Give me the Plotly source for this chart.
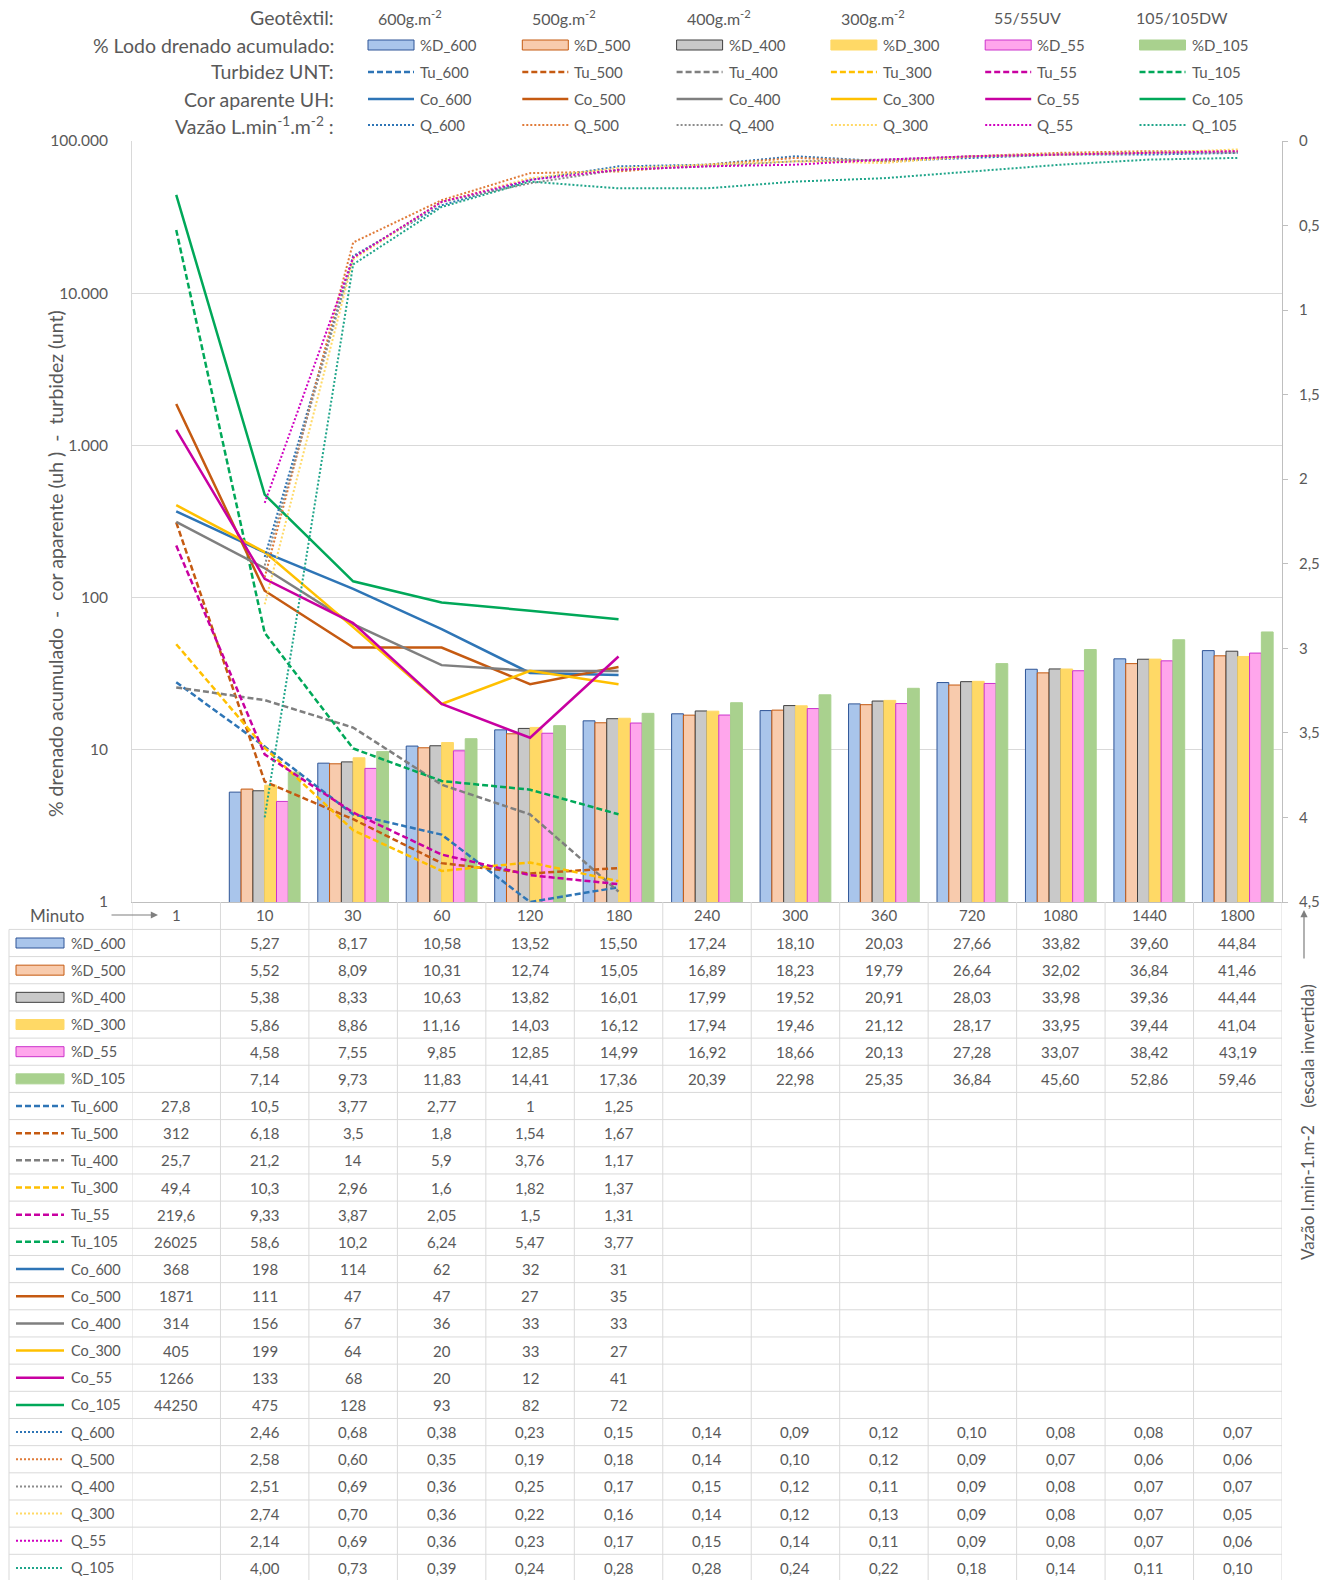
import plotly.graph_objects as go

# ---------------- data ----------------
minutes = ["1", "10", "30", "60", "120", "180", "240", "300", "360", "720", "1080", "1440", "1800"]
groups = ["600", "500", "400", "300", "55", "105"]
group_headers = ["600g.m<sup>-2</sup>", "500g.m<sup>-2</sup>", "400g.m<sup>-2</sup>",
                 "300g.m<sup>-2</sup>", "55/55UV", "105/105DW"]

D_600 = [None, 5.27, 8.17, 10.58, 13.52, 15.50, 17.24, 18.10, 20.03, 27.66, 33.82, 39.60, 44.84]
D_500 = [None, 5.52, 8.09, 10.31, 12.74, 15.05, 16.89, 18.23, 19.79, 26.64, 32.02, 36.84, 41.46]
D_400 = [None, 5.38, 8.33, 10.63, 13.82, 16.01, 17.99, 19.52, 20.91, 28.03, 33.98, 39.36, 44.44]
D_300 = [None, 5.86, 8.86, 11.16, 14.03, 16.12, 17.94, 19.46, 21.12, 28.17, 33.95, 39.44, 41.04]
D_55 = [None, 4.58, 7.55, 9.85, 12.85, 14.99, 16.92, 18.66, 20.13, 27.28, 33.07, 38.42, 43.19]
D_105 = [None, 7.14, 9.73, 11.83, 14.41, 17.36, 20.39, 22.98, 25.35, 36.84, 45.60, 52.86, 59.46]

Tu_600 = [27.8, 10.5, 3.77, 2.77, 1, 1.25]
Tu_500 = [312, 6.18, 3.5, 1.8, 1.54, 1.67]
Tu_400 = [25.7, 21.2, 14, 5.9, 3.76, 1.17]
Tu_300 = [49.4, 10.3, 2.96, 1.6, 1.82, 1.37]
Tu_55 = [219.6, 9.33, 3.87, 2.05, 1.5, 1.31]
Tu_105 = [26025, 58.6, 10.2, 6.24, 5.47, 3.77]

Co_600 = [368, 198, 114, 62, 32, 31]
Co_500 = [1871, 111, 47, 47, 27, 35]
Co_400 = [314, 156, 67, 36, 33, 33]
Co_300 = [405, 199, 64, 20, 33, 27]
Co_55 = [1266, 133, 68, 20, 12, 41]
Co_105 = [44250, 475, 128, 93, 82, 72]

Q_600 = [None, 2.46, 0.68, 0.38, 0.23, 0.15, 0.14, 0.09, 0.12, 0.10, 0.08, 0.08, 0.07]
Q_500 = [None, 2.58, 0.60, 0.35, 0.19, 0.18, 0.14, 0.10, 0.12, 0.09, 0.07, 0.06, 0.06]
Q_400 = [None, 2.51, 0.69, 0.36, 0.25, 0.17, 0.15, 0.12, 0.11, 0.09, 0.08, 0.07, 0.07]
Q_300 = [None, 2.74, 0.70, 0.36, 0.22, 0.16, 0.14, 0.12, 0.13, 0.09, 0.08, 0.07, 0.05]
Q_55 = [None, 2.14, 0.69, 0.36, 0.23, 0.17, 0.15, 0.14, 0.11, 0.09, 0.08, 0.07, 0.06]
Q_105 = [None, 4.00, 0.73, 0.39, 0.24, 0.28, 0.28, 0.24, 0.22, 0.18, 0.14, 0.11, 0.10]

D_series = [D_600, D_500, D_400, D_300, D_55, D_105]
Tu_series = [Tu_600, Tu_500, Tu_400, Tu_300, Tu_55, Tu_105]
Co_series = [Co_600, Co_500, Co_400, Co_300, Co_55, Co_105]
Q_series = [Q_600, Q_500, Q_400, Q_300, Q_55, Q_105]

# ---------------- styles ----------------
line_col = ["#2E75B6", "#C55A11", "#7F7F7F", "#FFC000", "#C800A1", "#00A859"]
q_col = ["#2E75B6", "#E07B39", "#8C8C8C", "#FFD966", "#D000C0", "#1FA58A"]
bar_fill = ["#A9C5EB", "#F8CBAD", "#C9C9C9", "#FFD966", "#FFA6EC", "#A9D18E"]
bar_edge = ["#2F5597", "#C55A11", "#404040", "#FFD966", "#CC33CC", "#A9D18E"]
TXT = "#595959"
GRID = "#D9D9D9"
FONT = "Lato"
DASH = "6px,3px"
DOT = "2px,2px"

W_FIG, H_FIG = 1335, 1580
L, R, T, B = 132, 1282, 141, 902
PW, PH = R - L, B - T


def px(x):
    return (x - L) / PW


def py(y):
    return (B - y) / PH


def fmt2(v):
    return "" if v is None else f"{v:.2f}".replace(".", ",")


def fmtg(v):
    s = f"{v:g}"
    return s.replace(".", ",")


fig = go.Figure()

# bars
for i, g in enumerate(groups):
    fig.add_trace(go.Bar(
        x=minutes, y=D_series[i], name="%D_" + g,
        marker=dict(color=bar_fill[i], line=dict(color=bar_edge[i], width=1)),
        yaxis="y"))

# turbidity (dashed) and colour (solid)
for i, g in enumerate(groups):
    fig.add_trace(go.Scatter(
        x=minutes[:len(Tu_series[i])], y=Tu_series[i], mode="lines", name="Tu_" + g,
        line=dict(color=line_col[i], width=2.5, dash=DASH), yaxis="y"))
for i, g in enumerate(groups):
    fig.add_trace(go.Scatter(
        x=minutes[:len(Co_series[i])], y=Co_series[i], mode="lines", name="Co_" + g,
        line=dict(color=line_col[i], width=2.5), yaxis="y"))
# flow (dotted, right axis)
for i, g in enumerate(groups):
    fig.add_trace(go.Scatter(
        x=minutes, y=Q_series[i], mode="lines", name="Q_" + g,
        line=dict(color=q_col[i], width=2, dash=DOT), yaxis="y2"))

shapes = []
ann = []

# ---------------- top legend ----------------
row_y = [18, 45, 72, 99, 125]
row_labels = ["Geotêxtil:", "% Lodo drenado acumulado:", "Turbidez UNT:",
              "Cor aparente UH:", "Vazão L.min<sup>-1</sup>.m<sup>-2</sup> :"]
for r, lab in enumerate(row_labels):
    ann.append(dict(x=px(336), y=py(row_y[r]), xref="paper", yref="paper", text=lab,
                    showarrow=False, xanchor="right", yanchor="middle",
                    font=dict(size=19.5, color=TXT, family=FONT)))
col_x0 = 368
col_step = 154.3
for i, g in enumerate(groups):
    sx = col_x0 + i * col_step
    ann.append(dict(x=px(sx + 42), y=py(row_y[0]), xref="paper", yref="paper",
                    text=group_headers[i], showarrow=False, xanchor="center", yanchor="middle",
                    font=dict(size=16, color=TXT, family=FONT)))
    # bar key
    shapes.append(dict(type="rect", xref="paper", yref="paper",
                       x0=px(sx), x1=px(sx + 46), y0=py(row_y[1] - 5), y1=py(row_y[1] + 5),
                       fillcolor=bar_fill[i], line=dict(color=bar_edge[i], width=1)))
    for r, (dash, wdt, col) in zip([2, 3, 4], [(DASH, 2.5, line_col[i]), ("solid", 2.5, line_col[i]),
                                             (DOT, 2, q_col[i])]):
        shapes.append(dict(type="line", xref="paper", yref="paper",
                           x0=px(sx), x1=px(sx + 46), y0=py(row_y[r]), y1=py(row_y[r]),
                           line=dict(color=col, width=wdt, dash=dash)))
    labels = ["%D_" + g, "Tu_" + g, "Co_" + g, "Q_" + g]
    for k, lab in enumerate(labels):
        ann.append(dict(x=px(sx + 50), y=py(row_y[k + 1]), xref="paper", yref="paper",
                        text=lab, showarrow=False, xanchor="left", yanchor="middle",
                        font=dict(size=15, color=TXT, family=FONT)))

# ---------------- data table ----------------
head_y = 915
row0 = 943
rstep = 27.17
n_rows = 24
tab_left = 9
VAL_SIZE = 15
# header row
for j, m in enumerate(minutes):
    ann.append(dict(x=j, y=py(head_y), xref="x", yref="paper", text=m, showarrow=False,
                    xanchor="center", yanchor="middle",
                    font=dict(size=VAL_SIZE, color=TXT, family=FONT)))
ann.append(dict(x=px(57), y=py(head_y), xref="paper", yref="paper", text="Minuto",
                showarrow=False, xanchor="center", yanchor="middle",
                font=dict(size=17, color=TXT, family=FONT)))
ann.append(dict(x=px(158), y=py(head_y), ax=-48, ay=0, xref="paper", yref="paper",
                axref="pixel", ayref="pixel", text="", showarrow=True, arrowhead=2,
                arrowsize=1.2, arrowwidth=1.2, arrowcolor="#7F7F7F"))

# grid lines of the table
y_top_tab = row0 - rstep / 2
y_bot_tab = row0 + (n_rows - 0.5) * rstep
for r in range(n_rows + 1):
    yy = row0 - rstep / 2 + r * rstep
    shapes.append(dict(type="line", xref="paper", yref="paper", x0=px(tab_left), x1=px(R),
                       y0=py(yy), y1=py(yy), line=dict(color=GRID, width=1)))
shapes.append(dict(type="line", xref="paper", yref="paper", x0=px(tab_left), x1=px(tab_left),
                   y0=py(y_top_tab), y1=py(y_bot_tab), line=dict(color=GRID, width=1)))
for k in range(len(minutes) + 1):
    shapes.append(dict(type="line", xref="x", yref="paper", x0=k - 0.5, x1=k - 0.5,
                       y0=py(B), y1=py(y_bot_tab), line=dict(color=GRID, width=1)))

# table rows
rows = []
for i, g in enumerate(groups):
    rows.append(("bar", i, "%D_" + g, [fmt2(v) for v in D_series[i]]))
for i, g in enumerate(groups):
    rows.append(("dash", i, "Tu_" + g, [fmtg(v) for v in Tu_series[i]]))
for i, g in enumerate(groups):
    rows.append(("solid", i, "Co_" + g, [fmtg(v) for v in Co_series[i]]))
for i, g in enumerate(groups):
    rows.append(("dot", i, "Q_" + g, [fmt2(v) for v in Q_series[i]]))

for r, (kind, i, lab, vals) in enumerate(rows):
    yy = row0 + r * rstep
    kx0, kx1 = 16, 64
    if kind == "bar":
        shapes.append(dict(type="rect", xref="paper", yref="paper", x0=px(kx0), x1=px(kx1),
                           y0=py(yy - 5), y1=py(yy + 5), fillcolor=bar_fill[i],
                           line=dict(color=bar_edge[i], width=1)))
    else:
        dash = {"dash": DASH, "solid": "solid", "dot": DOT}[kind]
        col = q_col[i] if kind == "dot" else line_col[i]
        shapes.append(dict(type="line", xref="paper", yref="paper", x0=px(kx0), x1=px(kx1),
                           y0=py(yy), y1=py(yy), line=dict(color=col, width=2.5 if kind != "dot" else 2,
                                                           dash=dash)))
    ann.append(dict(x=px(69), y=py(yy), xref="paper", yref="paper", text=lab, showarrow=False,
                    xanchor="left", yanchor="middle", font=dict(size=14.5, color=TXT, family=FONT)))
    for j, v in enumerate(vals):
        if v == "":
            continue
        ann.append(dict(x=j, y=py(yy), xref="x", yref="paper", text=v, showarrow=False,
                        xanchor="center", yanchor="middle",
                        font=dict(size=VAL_SIZE, color=TXT, family=FONT)))

# axis titles
NB = "\u00a0"
ann.append(dict(x=px(55), y=py(564), xref="paper", yref="paper",
                text=f"% drenado acumulado{NB*2}-{NB*2}cor aparente (uh ){NB*2}-{NB*2}turbidez (unt)",
                textangle=-90, showarrow=False, xanchor="center", yanchor="middle",
                font=dict(size=19.5, color=TXT, family=FONT)))
ann.append(dict(x=px(1307), y=py(1122), xref="paper", yref="paper",
                text=f"Vazão l.min-1.m-2{NB*4}(escala invertida)",
                textangle=-90, showarrow=False, xanchor="center", yanchor="middle",
                font=dict(size=17, color=TXT, family=FONT)))
ann.append(dict(x=px(1304), y=py(910), ax=0, ay=50, xref="paper", yref="paper",
                axref="pixel", ayref="pixel", text="", showarrow=True, arrowhead=2,
                arrowsize=1.2, arrowwidth=1.2, arrowcolor="#7F7F7F"))

fig.update_layout(
    width=W_FIG, height=H_FIG,
    margin=dict(l=L, r=W_FIG - R, t=T, b=H_FIG - B, pad=0),
    paper_bgcolor="white", plot_bgcolor="white",
    font=dict(family=FONT, color=TXT, size=14),
    separators=",.",
    showlegend=False,
    barmode="group", bargap=0.2, bargroupgap=0,
    xaxis=dict(type="category", categoryorder="array", categoryarray=minutes,
               range=[-0.5, len(minutes) - 0.5], showticklabels=False, showgrid=False,
               showline=True, linecolor="#BFBFBF", ticks="", zeroline=False),
    yaxis=dict(type="log", range=[0, 5], dtick=1, tickformat=",.0f", showgrid=True,
               gridcolor=GRID, gridwidth=1, showline=True, linecolor=GRID, ticks="",
               ticklabelstandoff=20, tickfont=dict(size=15.5, color=TXT), zeroline=False),
    yaxis2=dict(overlaying="y", side="right", range=[4.5, 0], dtick=0.5, showgrid=False,
                showline=True, linecolor="#BFBFBF", ticks="outside", ticklen=5,
                tickcolor="#BFBFBF", ticklabelstandoff=8, tickfont=dict(size=15, color=TXT),
                zeroline=False),
    shapes=shapes, annotations=ann,
)

fig.write_html("out.html", config={"displayModeBar": False},
               post_script="document.body.style.margin='0px';")
